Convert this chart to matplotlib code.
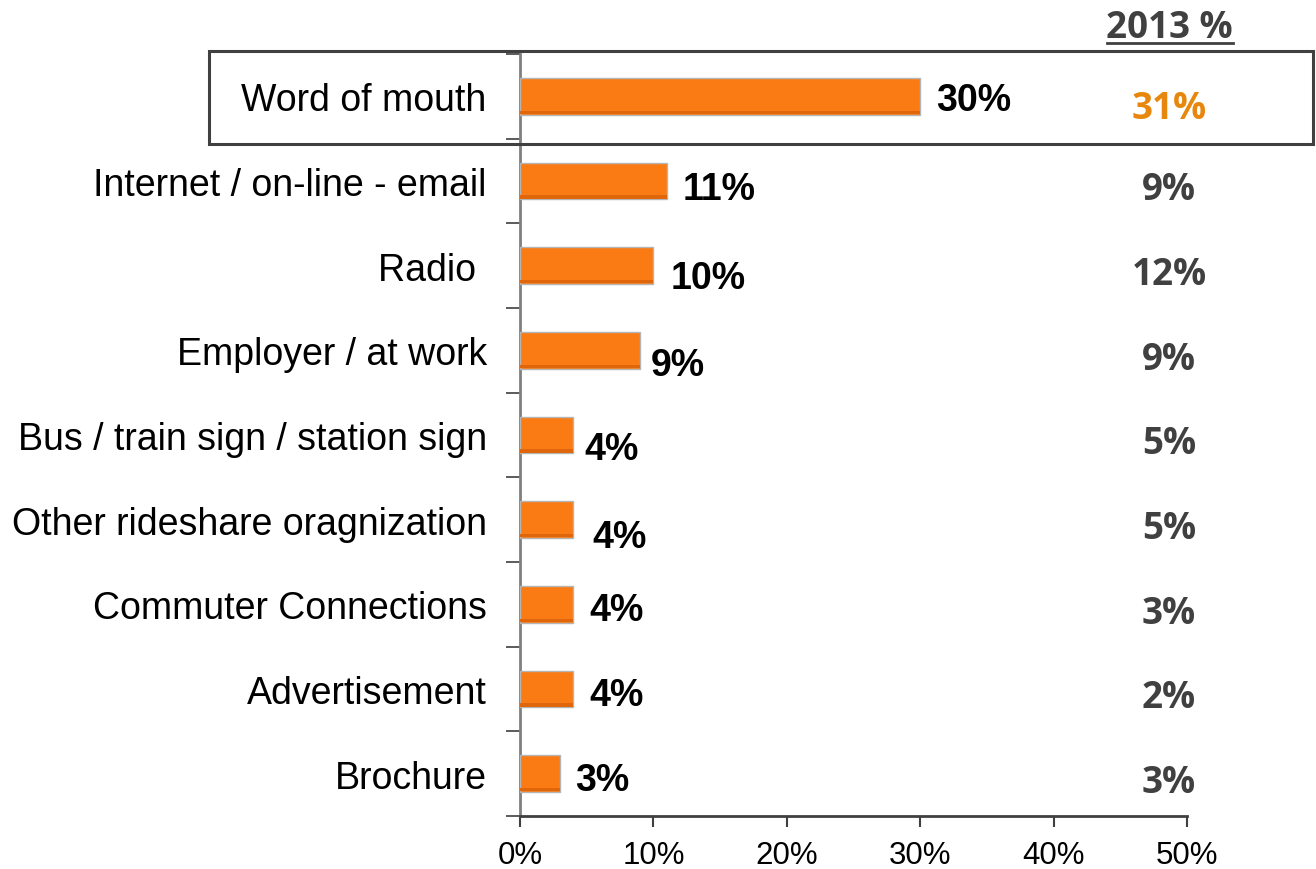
import matplotlib
matplotlib.use("Agg")
import matplotlib.pyplot as plt
from matplotlib.patches import Rectangle
from matplotlib.transforms import blended_transform_factory

categories = [
    "Word of mouth",
    "Internet / on-line - email",
    "Radio ",
    "Employer / at work",
    "Bus / train sign / station sign",
    "Other rideshare oragnization",
    "Commuter Connections",
    "Advertisement",
    "Brochure",
]
share_current = [30, 11, 10, 9, 4, 4, 4, 4, 3]
share_2013 = [31, 9, 12, 9, 5, 5, 3, 2, 3]
xticks = [0, 10, 20, 30, 40, 50]
xtick_labels = ["0%", "10%", "20%", "30%", "40%", "50%"]

W, H = 1316, 870
fig = plt.figure(figsize=(W / 100, H / 100), dpi=100)
ax = fig.add_axes([520 / W, 1 - 817 / H, (1187 - 520) / W, (817 - 55) / H])

n = len(categories)
ypos = list(range(n))
bar_color = "#FA7B14"
ax.barh(ypos, share_current, height=0.43, color=bar_color,
        edgecolor="#B5B5B5", linewidth=1.0, zorder=3)
# darker lower rim for a slightly bevelled look
ax.barh([y + 0.19 for y in ypos], share_current, height=0.04,
        color="#E0660C", linewidth=0, zorder=4)

ax.set_xlim(0, 50)
ax.set_ylim(n - 0.5, -0.5)

ax.set_xticks(xticks)
ax.set_xticklabels(xtick_labels, fontsize=22.5, family="Liberation Sans")
ax.tick_params(axis="x", length=8, width=1.5, color="#404040", pad=9.5)

ax.set_yticks(ypos)
ax.set_yticklabels(categories, fontsize=27, family="Liberation Sans")
ax.tick_params(axis="y", which="major", length=0, pad=24)
ax.set_yticks([y - 0.5 for y in range(n + 1)], minor=True)
ax.tick_params(axis="y", which="minor", length=10, width=1.2, color="#404040")

for s in ["top", "right"]:
    ax.spines[s].set_visible(False)
ax.spines["left"].set_color("#808080")
ax.spines["left"].set_linewidth(2)
ax.spines["bottom"].set_color("#404040")
ax.spines["bottom"].set_linewidth(2)

# value labels beside each bar
label_dy = [0.04, 0.1, 0.15, 0.17, 0.17, 0.2, 0.07, 0.07, 0.07]
label_dx = [1.2, 1.2, 1.3, 0.8, 0.8, 1.4, 1.2, 1.2, 1.1]
for y, v, dx, dy in zip(ypos, share_current, label_dx, label_dy):
    ax.text(v + dx, y + dy, f"{v}%", ha="left", va="center",
            fontsize=27, fontweight="bold", family="Liberation Sans",
            color="black", zorder=5)

# 2013 comparison column
col_tr = blended_transform_factory(fig.transFigure, ax.transData)
for i, (y, v) in enumerate(zip(ypos, share_2013)):
    col = "#E8870E" if i == 0 else "#404040"
    ax.text(1169 / W, y + 0.14 if i == 0 else y + 0.1, f"{v}%",
            transform=col_tr, ha="center", va="center", fontsize=26.5,
            fontweight="bold", family="Open Sans", color=col, clip_on=False)

fig.text(1169 / W, 1 - 28 / H, "2013 %", ha="center", va="center",
         fontsize=26.5, fontweight="bold", family="Open Sans", color="#404040")
fig.add_artist(plt.Line2D([1107 / W, 1233 / W], [1 - 44 / H, 1 - 44 / H],
                          transform=fig.transFigure, color="#404040", lw=2))

# frame around the leading category
fig.add_artist(Rectangle((209 / W, 1 - 145 / H), (1313 - 209) / W, (145 - 52) / H,
                         transform=fig.transFigure, fill=False,
                         edgecolor="#404040", linewidth=2.2, zorder=10))

fig.savefig("out.png", dpi=100)
